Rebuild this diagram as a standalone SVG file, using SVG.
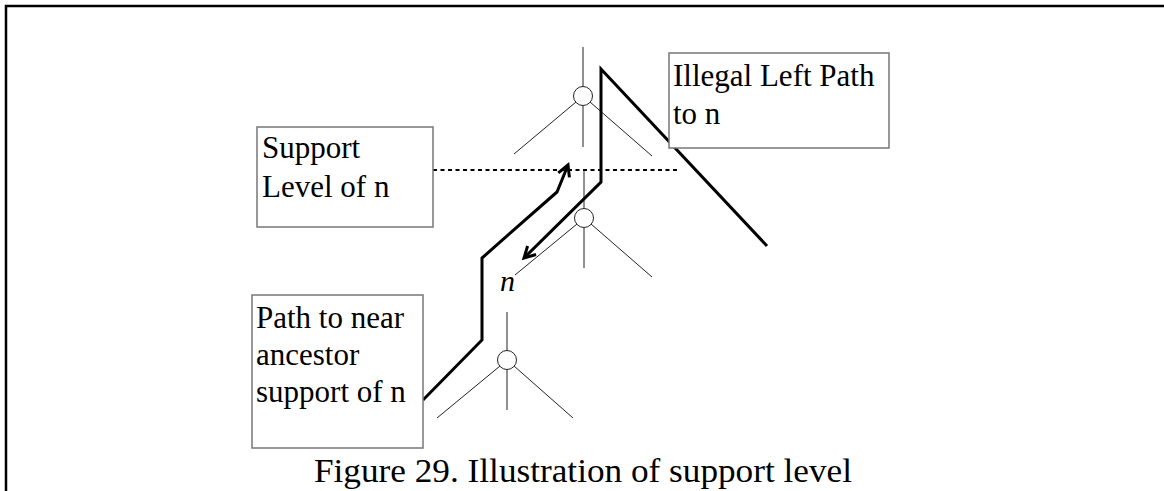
<svg xmlns="http://www.w3.org/2000/svg" width="1164" height="491" viewBox="0 0 1164 491">
  <style>
    .frame { fill: none; stroke: #000; stroke-width: 2.5; }
    .tree { fill: none; stroke: #222; stroke-width: 1; }
    .node { fill: #fff; stroke: #222; stroke-width: 1; }
    .thick { fill: none; stroke: #000; stroke-width: 3; stroke-linejoin: miter; }
    .level { fill: none; stroke: #000; stroke-width: 2; stroke-dasharray: 4 3.5; }
    .box { fill: #fff; stroke: #777; stroke-width: 1.5; }
    .label { font-family: "Liberation Serif", "Times New Roman", serif; font-size: 31px; fill: #000; }
    .caption { font-family: "Liberation Serif", "Times New Roman", serif; font-size: 34px; fill: #000; }
    .var { font-family: "Liberation Serif", "Times New Roman", serif; font-size: 30px; font-style: italic; fill: #000; }
  </style>
  <defs>
    <marker id="open-arrow" markerUnits="userSpaceOnUse" markerWidth="16" markerHeight="16" viewBox="0 0 16 16" refX="13" refY="8" orient="auto">
      <path d="M2,2 L13,8 L2,14" fill="none" stroke="#000" stroke-width="3"/>
    </marker>
  </defs>

  <rect width="1164" height="491" fill="#fff"/>
  <!-- page frame -->
  <path class="frame" d="M6,491 L6,6 L1164,6"/>

  <!-- tree nodes -->
  <g id="node-top">
    <path class="tree" d="M583,47 L583,87 M583,106 L583,147 M576,102 L514,154 M590,102 L652,156"/>
    <circle class="node" cx="583" cy="96" r="9.5"/>
  </g>
  <g id="node-n">
    <path class="tree" d="M584,171 L584,209 M584,228 L584,268 M577,224 L515,275 M591,224 L652,277"/>
    <circle class="node" cx="584" cy="218" r="9.5"/>
  </g>
  <g id="node-ancestor">
    <path class="tree" d="M507,312 L507,351 M507,370 L507,410 M500,366 L437,418 M514,366 L573,418"/>
    <circle class="node" cx="507" cy="360" r="9.5"/>
  </g>

  <!-- paths and support level -->
  <g id="connectors">
    <line class="level" x1="388" y1="170" x2="678" y2="170"/>
    <polyline class="thick" points="423,400 482,340 482,258 557,192 568,165" marker-end="url(#open-arrow)"/>
    <polyline class="thick" points="767,246 601,69 601,182 524,258" marker-end="url(#open-arrow)"/>
  </g>

  <g id="label-n">
    <text class="var" x="500" y="291">n</text>
  </g>

  <g id="box-support-level">
    <rect class="box" x="257" y="127" width="176" height="100"/>
    <text class="label" x="262" y="158">Support</text>
    <text class="label" x="262" y="197">Level of n</text>
  </g>

  <g id="box-illegal-path">
    <rect class="box" x="669" y="53" width="220" height="95"/>
    <text class="label" x="673" y="86">Illegal Left Path</text>
    <text class="label" x="673" y="124">to n</text>
  </g>

  <g id="box-ancestor-path">
    <rect class="box" x="252" y="295" width="171" height="153"/>
    <text class="label" x="256" y="328">Path to near</text>
    <text class="label" x="256" y="365">ancestor</text>
    <text class="label" x="256" y="402">support of n</text>
  </g>

  <text class="caption" x="314" y="482" textLength="538" lengthAdjust="spacingAndGlyphs">Figure 29. Illustration of support level</text>
</svg>
